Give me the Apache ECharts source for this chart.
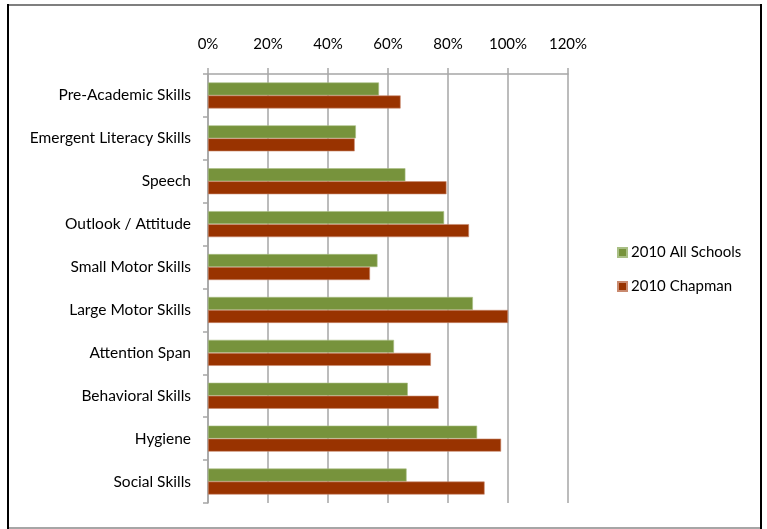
<!DOCTYPE html>
<html>
<head>
<meta charset="utf-8">
<script src="https://cdn.jsdelivr.net/npm/echarts@6/dist/echarts.min.js"></script>
<style>
  html, body { margin: 0; padding: 0; background: #ffffff; }
  #chart { width: 767px; height: 529px; }
</style>
</head>
<body>
<div id="chart"></div>
<script>
// Skill categories, top to bottom
const categories = [
  'Pre-Academic Skills',
  'Emergent Literacy Skills',
  'Speech',
  'Outlook / Attitude',
  'Small Motor Skills',
  'Large Motor Skills',
  'Attention Span',
  'Behavioral Skills',
  'Hygiene',
  'Social Skills'
];

// Share of students rated ready, per skill
const allSchools2010 = [0.57, 0.493, 0.658, 0.787, 0.565, 0.883, 0.62, 0.666, 0.897, 0.662];
const chapman2010   = [0.642, 0.489, 0.795, 0.87, 0.54, 1.0, 0.743, 0.769, 0.977, 0.922];

const seriesNames = ['2010 All Schools', '2010 Chapman'];
const tickValues = [0, 0.2, 0.4, 0.6, 0.8, 1.0, 1.2];

const font = 'Lato, "Open Sans", sans-serif';
const chart = echarts.init(document.getElementById('chart'));

chart.setOption({
  animation: false,
  backgroundColor: '#ffffff',
  grid: { left: 208, right: 199, top: 74, bottom: 26, containLabel: false },
  legend: {
    orient: 'vertical',
    left: 612,
    top: 240,
    itemWidth: 9,
    itemHeight: 9,
    itemGap: 19,
    icon: 'rect',
    textStyle: { fontFamily: font, fontSize: 15, color: '#000000', padding: [0, 0, 0, -1] },
    data: seriesNames
  },
  xAxis: {
    type: 'value',
    position: 'top',
    min: tickValues[0],
    max: tickValues[tickValues.length - 1],
    interval: 0.2,
    axisLine: { show: true, lineStyle: { color: '#a6a6a6', width: 1.5 } },
    axisTick: { show: true, length: 6, lineStyle: { color: '#a6a6a6', width: 1.5 } },
    splitLine: { show: true, lineStyle: { color: '#a6a6a6', width: 1.5 } },
    axisLabel: {
      margin: 22,
      fontFamily: font,
      fontSize: 15,
      color: '#000000',
      formatter: v => Math.round(v * 100) + '%'
    }
  },
  yAxis: {
    type: 'category',
    inverse: true,
    data: categories,
    axisLine: { show: true, lineStyle: { color: '#a6a6a6', width: 1.5 } },
    axisTick: { show: true, length: 5, lineStyle: { color: '#a6a6a6', width: 1.5 } },
    axisLabel: { margin: 17, fontFamily: font, fontSize: 15.5, color: '#000000' }
  },
  series: [
    {
      name: seriesNames[0],
      type: 'bar',
      data: allSchools2010,
      barWidth: 13,
      barGap: '0%',
      itemStyle: { color: '#77933C', borderColor: '#a9bf85', borderWidth: 0.6 }
    },
    {
      name: seriesNames[1],
      type: 'bar',
      data: chapman2010,
      barWidth: 13,
      barGap: '0%',
      itemStyle: { color: '#993300', borderColor: '#c98a6f', borderWidth: 0.6 }
    }
  ],
  graphic: [
    // Chart frame
    { type: 'line', shape: { x1: 8, y1: 5, x2: 761, y2: 5 }, style: { stroke: '#7f7f7f', lineWidth: 2 } },
    { type: 'line', shape: { x1: 8, y1: 528, x2: 761, y2: 528 }, style: { stroke: '#a6a6a6', lineWidth: 2 } },
    { type: 'line', shape: { x1: 8, y1: 4, x2: 8, y2: 529 }, style: { stroke: '#000000', lineWidth: 2 } },
    { type: 'line', shape: { x1: 761, y1: 4, x2: 761, y2: 529 }, style: { stroke: '#000000', lineWidth: 2 } }
  ]
});
</script>
</body>
</html>
